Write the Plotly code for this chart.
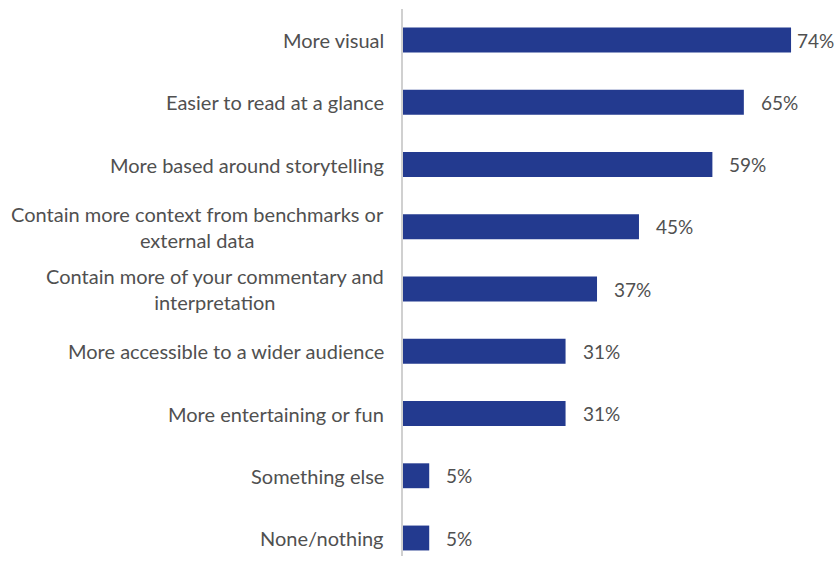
import plotly.graph_objects as go

categories = [
    "More visual",
    "Easier to read at a glance",
    "More based around storytelling",
    "Contain more context from benchmarks or<br>external data",
    "Contain more of your commentary and<br>interpretation",
    "More accessible to a wider audience",
    "More entertaining or fun",
    "Something else",
    "None/nothing",
]
values = [74, 65, 59, 45, 37, 31, 31, 5, 5]
value_labels = ["74%", "65%", "59%", "45%", "37%", "31%", "31%", "5%", "5%"]

# bottom-to-top order for plotting
cats = categories[::-1]
vals = values[::-1]
labs = value_labels[::-1]

BAR = "#233A8F"
TEXT = "#505050"
FONT = "Lato"

fig = go.Figure(go.Bar(
    x=vals, y=cats, orientation="h",
    marker=dict(color=BAR, line=dict(width=0)),
    width=0.40,
))

ann = []
for c in cats:
    ann.append(dict(x=0, xref="paper", y=c, yref="y", text=c, showarrow=False,
                    xanchor="right", align="center", xshift=-17,
                    font=dict(family=FONT, size=20, color=TEXT)))
for c, v, l in zip(cats, vals, labs):
    ann.append(dict(x=v, xref="x", y=c, yref="y", text=l, showarrow=False,
                    xanchor="left", xshift=4 if v > 70 else 15,
                    font=dict(family=FONT, size=19, color=TEXT)))

fig.update_layout(
    width=838, height=564,
    margin=dict(l=403, r=5, t=9, b=8),
    plot_bgcolor="white", paper_bgcolor="white",
    showlegend=False,
    annotations=ann,
    xaxis=dict(range=[0, 82], visible=False),
    yaxis=dict(range=[-0.289, 8.498], showticklabels=False, showgrid=False,
               zeroline=False, showline=True, linecolor="#d0d0d0", linewidth=2,
               ticks=""),
)

fig.write_html("out.html")
